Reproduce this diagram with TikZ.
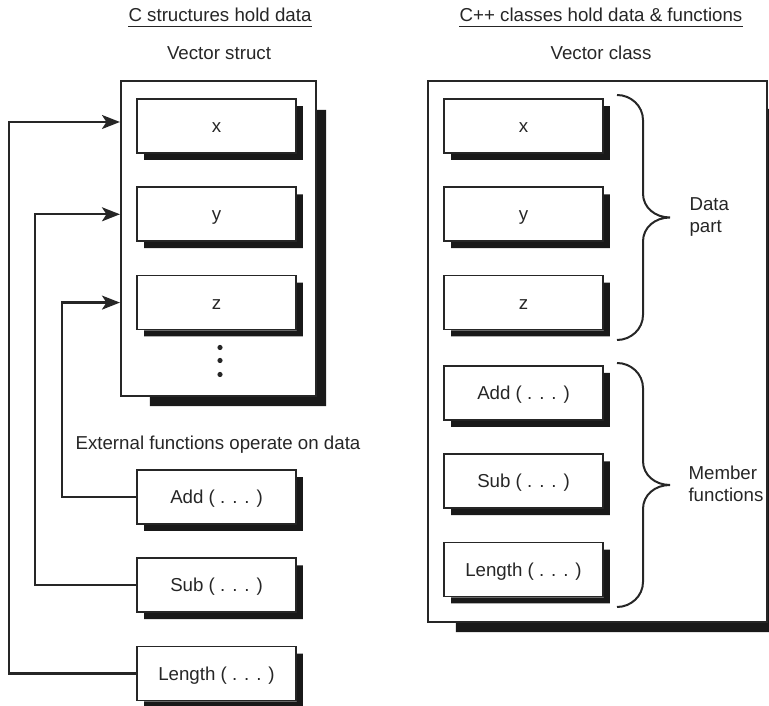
\documentclass[tikz,border=0pt]{standalone}
\usepackage{fontspec}
\setmainfont{Liberation Sans}
\usetikzlibrary{positioning,calc,arrows.meta}

\begin{document}
\begin{tikzpicture}[
    x=1pt, y=1pt,
    >={Stealth[length=18pt, width=14pt, inset=4.5pt]},
    node distance=32.5pt,
    every node/.style={font=\fontsize{18.7}{22}\selectfont, text=black!85},
    fieldbox/.style={
        draw=black!85, line width=1.8pt, minimum width=159pt, minimum height=54pt,
        inner sep=0pt, text height=13.4pt, text depth=0pt
      },
    holder/.style={draw=black!85, line width=2.1pt, inner sep=0pt},
    heading/.style={anchor=base, inner xsep=0pt, inner ysep=4.3pt, text depth=0pt},
    wire/.style={line width=2.2pt, draw=black!85},
    curly/.style={line width=2pt, draw=black!85},
  ]
  \useasboundingbox (0,0) rectangle (769,706);

  % C struct side
  \node[heading] (ctitle) at (220,684.3) {C structures hold data};
  \draw[line width=1.3pt, black!85] (ctitle.south west) -- (ctitle.south east);
  \node[anchor=base] (cname) at (219,646.3) {Vector struct};
  \node[holder, minimum width=195pt, minimum height=315pt] (struct) at (218.5,467.5) {};
  \node[fieldbox] (sx) at (216.5,580) {x};
  \node[fieldbox] (sy) [below=of sx] {y};
  \node[fieldbox] (sz) [below=of sy] {z};
  \foreach \off in {17,30,44}
    \fill[black!85] ($(sz.south)+(3.5,-\off)$) circle (2.6);

  \node[anchor=base] (ext) at (218,256.3) {External functions operate on data};
  \node[fieldbox] (add) at (216.5,209) {Add ( . . . )};
  \node[fieldbox] (sub) [below=of add] {Sub ( . . . )};
  \node[fieldbox] (len) [below=of sub] {Length ( . . . )};

  \draw[wire,->] (add.west) -- ++(-74,0) |- (struct.west |- sz);
  \draw[wire,->] (sub.west) -- ++(-101,0) |- (struct.west |- sy);
  \draw[wire,->] (len.west) -- ++(-127,0) |- ($(struct.west |- sx)+(0,4)$);

  % C++ class side
  \node[heading] (pptitle) at (601,684.3) {C++ classes hold data \& functions};
  \draw[line width=1.3pt, black!85] (pptitle.south west) -- (pptitle.south east);
  \node[anchor=base] (ppname) at (601,646.3) {Vector class};
  \node[holder, minimum width=339pt, minimum height=541pt] (class) at (597.5,354.5) {};
  \node[fieldbox] (cx) at (523.5,580) {x};
  \node[fieldbox] (cy) [below=of cx] {y};
  \node[fieldbox] (cz) [below=of cy] {z};
  \node[fieldbox] (cadd) [below=34.5pt of cz] {Add ( . . . )};
  \node[fieldbox] (csub) [below=of cadd] {Sub ( . . . )};
  \node[fieldbox] (clen) [below=of csub] {Length ( . . . )};

  % shadows
  \foreach \n/\i/\s in {struct/30/9, class/29/9, sx/8/6, sy/8/6, sz/8/6,
      add/8/6, sub/8/6, len/8/6, cx/8/6, cy/8/6, cz/8/6, cadd/8/6, csub/8/6, clen/8/6}
    \fill[black!90] ($(\n.north east)+(0,-\i)$) rectangle ($(\n.south east)+(\s,-\s)$)
                    ($(\n.south west)+(\i,0)$) rectangle ($(\n.south east)+(\s,-\s)$);

  % braces
  \foreach \t/\b in {611/366, 343/99}{
    \pgfmathsetmacro\m{(\t+\b)/2}
    \draw[curly] (617,\t) .. controls (631,\t) and (643,\t-11) .. (643,\t-25)
      -- (643,\m+24) .. controls (643,\m+10) and (655,\m) .. (670,\m)
      .. controls (655,\m) and (643,\m-10) .. (643,\m-24)
      -- (643,\b+25) .. controls (643,\b+11) and (631,\b) .. (617,\b);
  }
  \node[anchor=west, align=left] (datapart) at (686,489) {Data\\part};
  \node[anchor=west, align=left] (members) at (685,222.5) {Member\\functions};
\end{tikzpicture}
\end{document}
